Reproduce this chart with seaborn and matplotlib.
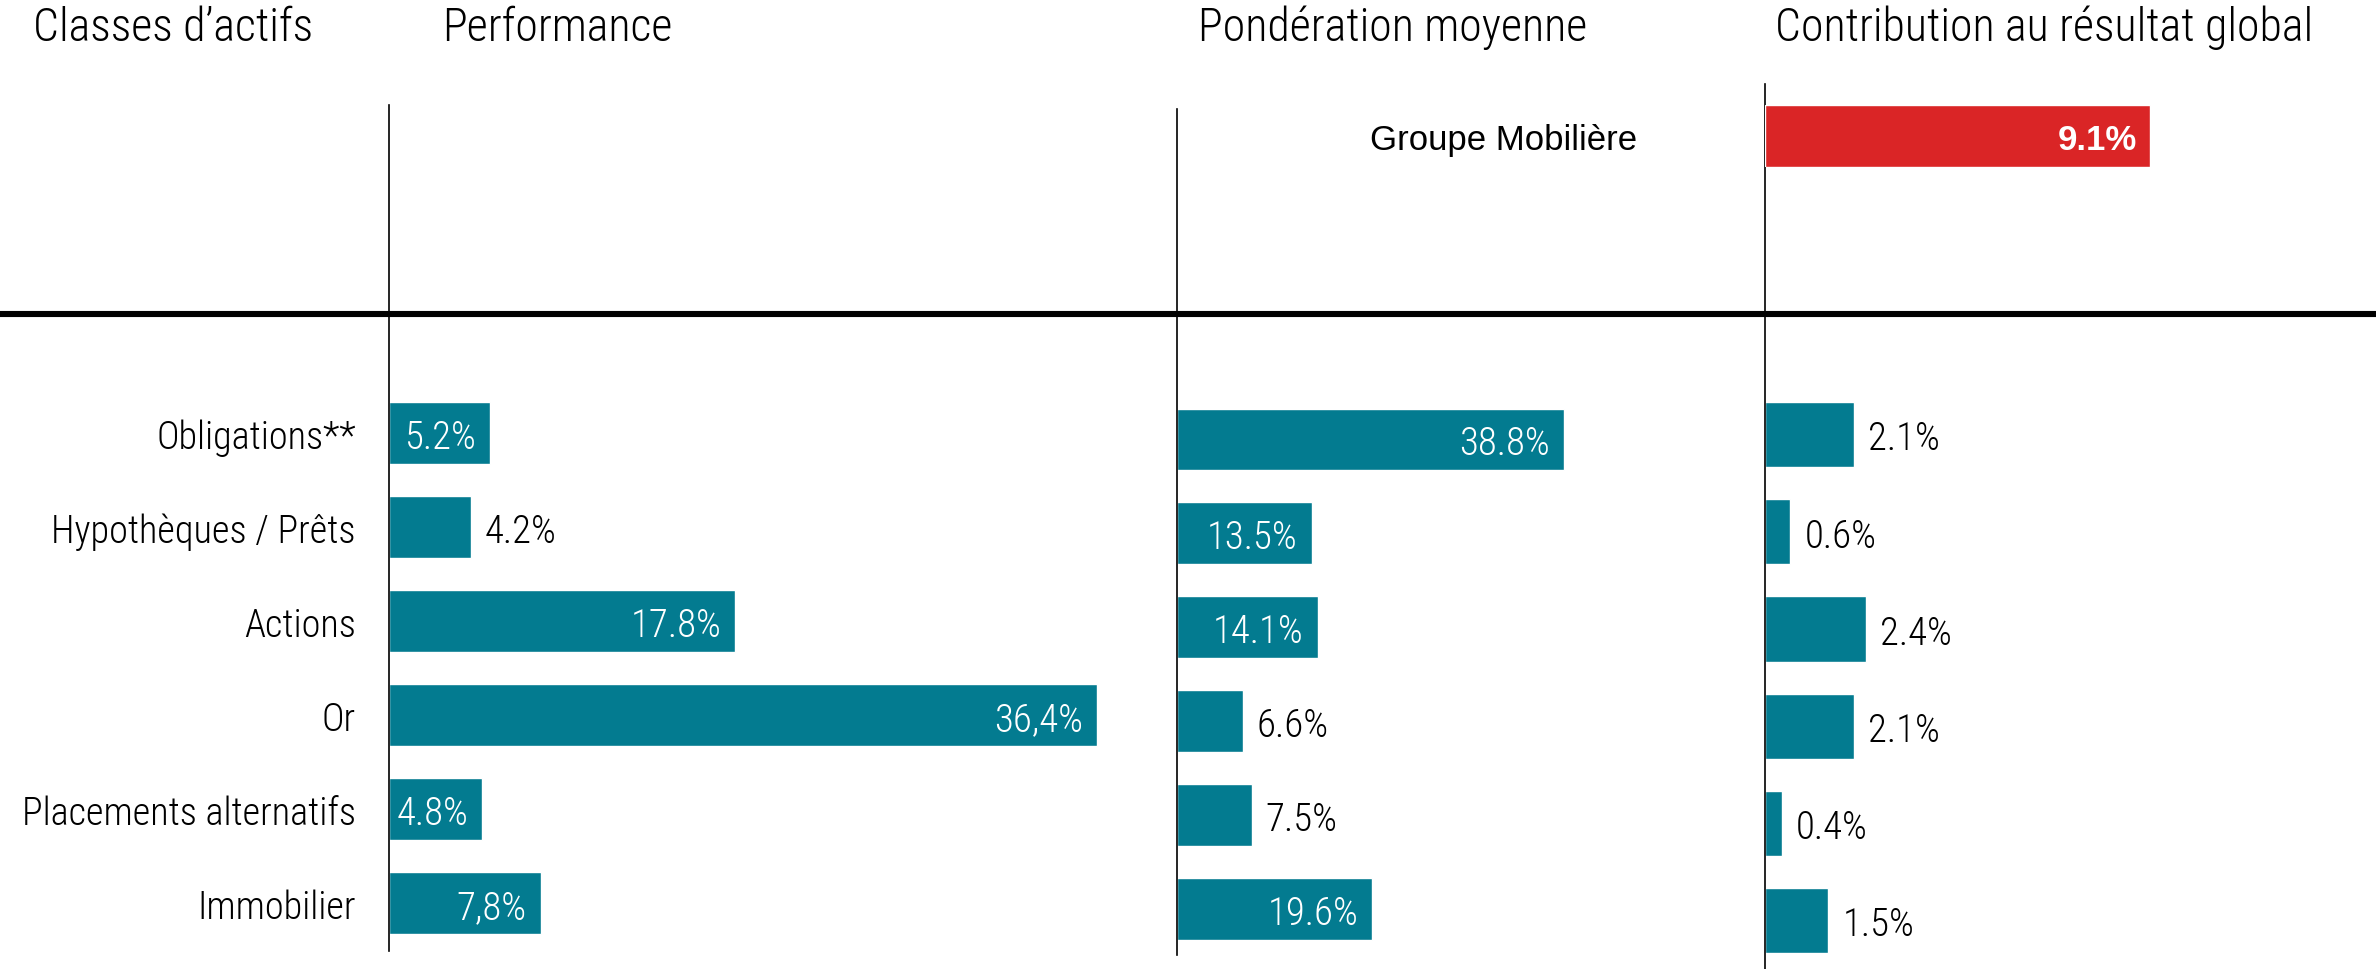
import matplotlib.pyplot as plt
import seaborn as sns
from matplotlib.lines import Line2D

# ==========================================
# DATA
# ==========================================

categories = ["Obligations**", "Hypothèques / Prêts", "Actions", "Or",
              "Placements alternatifs", "Immobilier"]

performance = [5.2, 4.2, 17.8, 36.4, 4.8, 7.8]
perf_labels = ["5.2%", "4.2%", "17.8%", "36,4%", "4.8%", "7,8%"]

ponderation = [38.8, 13.5, 14.1, 6.6, 7.5, 19.6]
pond_labels = ["38.8%", "13.5%", "14.1%", "6.6%", "7.5%", "19.6%"]

contribution = [2.1, 0.6, 2.4, 2.1, 0.4, 1.5]
contrib_labels = ["2.1%", "0.6%", "2.4%", "2.1%", "0.4%", "1.5%"]

total_name = ["Groupe Mobilière"]
total_value = [9.1]
total_label = ["9.1%"]

headers = ["Classes d’actifs", "Performance", "Pondération moyenne",
           "Contribution au résultat global"]

# where the value label goes: inside the bar or after it
perf_inside = [True, False, True, True, True, True]
pond_inside = [True, True, True, False, False, True]
contrib_inside = [False, False, False, False, False, False]

# ==========================================
# STYLE
# ==========================================

TEAL = "#037B90"
RED = "#DA2526"
W, H = 2376, 970

sns.set_theme(style="white")
plt.rcParams["font.family"] = ["Roboto Condensed", "IBM Plex Sans Condensed",
                               "DejaVu Sans"]
plt.rcParams["font.weight"] = 300

fig = plt.figure(figsize=(W / 100, H / 100), dpi=100)


def box(x0, y0, x1, y1):
    # pixel box (from top-left) -> figure fraction
    return [x0 / W, 1 - y1 / H, (x1 - x0) / W, (y1 - y0) / H]


def draw_panel(rect, values, labels, inside, xmax, ylim, width,
               show_names=False):
    ax = fig.add_axes(rect)
    ax.patch.set_visible(False)
    sns.barplot(x=values, y=categories, orient="h", color=TEAL,
                saturation=1, width=width, ax=ax)
    ax.set_xlim(0, xmax)
    ax.set_ylim(*ylim)
    for i, (v, lab, ins) in enumerate(zip(values, labels, inside)):
        if ins:
            ax.annotate(lab, xy=(v, i), xytext=(-10, 0),
                        textcoords="offset points", ha="right",
                        va="center_baseline", color="white", fontsize=28)
        else:
            ax.annotate(lab, xy=(v, i), xytext=(10, 0),
                        textcoords="offset points", ha="left",
                        va="center_baseline", color="black", fontsize=28)
    for side in ["top", "right", "bottom"]:
        ax.spines[side].set_visible(False)
    ax.spines["left"].set_color("black")
    ax.spines["left"].set_linewidth(1.2)
    ax.set_xticks([])
    ax.set_xlabel("")
    ax.set_ylabel("")
    ax.tick_params(axis="y", length=0, pad=24, labelsize=27.5,
                   labelcolor="black")
    if not show_names:
        ax.set_yticklabels([])
    return ax


# ==========================================
# PANELS
# ==========================================

draw_panel(box(389, 106, 1177, 952), performance, perf_labels, perf_inside,
           40.5, (5.51, -3.49), 0.66, show_names=True)
draw_panel(box(1177, 110, 1765, 956), ponderation, pond_labels, pond_inside,
           59, (5.49, -3.52), 0.66)
draw_panel(box(1765, 85, 2376, 970), contribution, contrib_labels,
           contrib_inside, 14.45, (5.50, -3.61), 0.67)

# total bar (Groupe Mobilière)
ax_t = fig.add_axes(box(1765, 106, 2376, 168))
ax_t.patch.set_visible(False)
sns.barplot(x=total_value, y=total_name, orient="h", color=RED,
            saturation=1, width=1.0, ax=ax_t)
ax_t.set_xlim(0, 14.45)
ax_t.set_ylim(0.5, -0.5)
ax_t.annotate(total_label[0], xy=(total_value[0], 0), xytext=(-9, 0),
              textcoords="offset points", ha="right", va="center_baseline",
              color="white", fontsize=25, fontweight="bold",
              family=["Liberation Sans", "DejaVu Sans"])
for side in ["top", "right", "bottom", "left"]:
    ax_t.spines[side].set_visible(False)
ax_t.set_xticks([])
ax_t.set_xlabel("")
ax_t.set_ylabel("")
ax_t.tick_params(axis="y", length=0, pad=92, labelcolor="black")
for t in ax_t.get_yticklabels():
    t.set_fontfamily(["Liberation Sans", "DejaVu Sans"])
    t.set_fontweight("normal")
    t.set_fontsize(25)

# ==========================================
# HEADERS & SEPARATOR
# ==========================================

header_x = [33, 442, 1198, 1775]
for hx, txt in zip(header_x, headers):
    fig.text(hx / W, 1 - 28 / H, txt, ha="left", va="center", fontsize=33,
             color="black")

fig.add_artist(Line2D([0, 1], [1 - 315 / H, 1 - 315 / H],
                      transform=fig.transFigure, color="black", lw=4.4))

fig.savefig("out.png", dpi=100)
